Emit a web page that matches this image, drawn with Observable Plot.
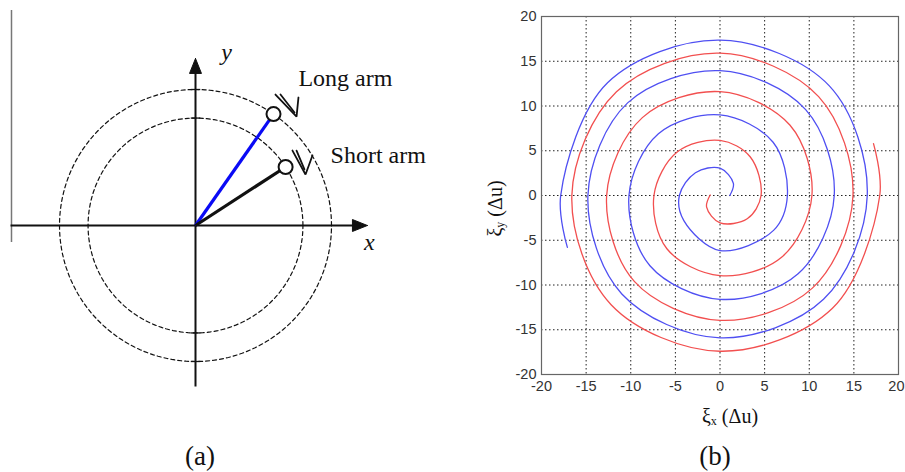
<!DOCTYPE html>
<html><head><meta charset="utf-8">
<script src="https://cdn.jsdelivr.net/npm/d3@7"></script>
<script src="https://cdn.jsdelivr.net/npm/@observablehq/plot@0.6"></script>
<style>
body{margin:0;background:#fff;}
#wrap{position:relative;width:905px;height:472px;overflow:hidden;font-family:"Liberation Serif",serif;color:#111;}
.abs{position:absolute;white-space:nowrap;}
</style></head>
<body><div id="wrap">
<div id="pa" class="abs" style="left:0;top:0"></div>
<div id="pb" class="abs" style="left:470px;top:0"></div>
<div class="abs" style="left:160px;top:441px;width:80px;text-align:center;font-size:27px;line-height:30px">(a)</div>
<div class="abs" style="left:675px;top:441px;width:80px;text-align:center;font-size:27px;line-height:30px">(b)</div>
<div class="abs" style="left:680px;top:404px;width:100px;text-align:center;font-size:20px;line-height:24px">ξ<span style="font-size:12px;position:relative;top:2px">x</span> (Δu)</div>
<div class="abs" style="left:446px;top:195px;width:100px;text-align:center;font-size:20px;line-height:24px;transform:rotate(-90deg)">ξ<span style="font-size:12px;position:relative;top:2px">y</span> (Δu)</div>
</div>
<script>
// ---------- Panel (a): diagram values (outer circle radius = 1) ----------
const circleRadii = [1.0, 0.79];
const armNames = ["Long arm", "Short arm"];
const armLengths = [1.0, 0.79];
const armAnglesDeg = [55, 33];
const armColors = ["#0a0af5", "#111111"];
const armLabelX = [0.757, 0.993];
const armLabelY = [1.081, 0.515];
const axisNames = ["x", "y"];
const axisLabelX = [1.279, 0.228];
const axisLabelY = [-0.125, 1.272];
const axisLineX1 = [-1.36, 0], axisLineY1 = [0, -1.184], axisLineX2 = [1.16, 0], axisLineY2 = [0, 1.13];
const headTipX = [1.264, 0], headTipY = [0, 1.228], headHalf = 0.044, headLen = 0.11;
const rotMarkLongX = [0.588, 0.743, 0.757], rotMarkLongY = [0.963, 0.801, 0.941];
const rotMarkLong2X = [0.625, 0.728], rotMarkLong2Y = [0.963, 0.831];
const rotMarkShortX = [0.713, 0.809, 0.860], rotMarkShortY = [0.551, 0.375, 0.515];
const rotMarkShort2X = [0.743, 0.801], rotMarkShort2Y = [0.551, 0.412];

// ---------- Panel (b): spiral readings ----------
const tickValues = [-20, -15, -10, -5, 0, 5, 10, 15, 20];
const gridValues = [-15, -10, -5, 0, 5, 10, 15];
const blueX = [1.1, 1.5, 0, -2.75, -4.55, -4.05, 0, 6.0, 7.55, 5.95, 0, -6.9, -10.2, -7.85, 0, 8.75, 12.8, 9.6, 0, -10.35, -14.8, -11.0, 0, 11.6, 16.5, 12.25, 0, -12.6, -17.85, -17.1];
const blueY = [0, 1.35, 3.05, 2.55, 0, -2.8, -6.15, -3.9, 0, 5.95, 9.0, 6.9, 0, -7.85, -11.6, -8.75, 0, 9.6, 13.95, 10.35, 0, -11.0, -15.9, -11.6, 0, 12.25, 17.35, 12.6, 0, -5.8];
const redX = [-1.1, -1.5, 0, 3.05, 4.6, 3.4, 0, -4.8, -7.4, -5.95, 0, 6.9, 10.3, 7.85, 0, -8.7, -12.7, -9.6, 0, 10.35, 14.9, 11.05, 0, -11.6, -16.6, -12.2, 0, 12.6, 17.9, 17.2];
const redY = [0.05, -1.3, -3.05, -2.6, 0, 4.3, 6.15, 4.85, 0, -5.95, -8.95, -6.9, 0, 7.85, 11.6, 8.7, 0, -9.6, -13.95, -10.35, 0, 11.05, 15.9, 11.6, 0, -12.2, -17.4, -12.6, 0, 5.8];

// ---------- build panel (a) ----------
const S = 136, W = 450, H = 440, OX = 195, OY = 225;
const circlePts = [];
circleRadii.forEach((r, k) => { for (let a = 0; a <= 360; a += 2) circlePts.push({k, x: r*Math.cos(a*Math.PI/180), y: r*Math.sin(a*Math.PI/180)}); });
const arms = armNames.map((n, i) => ({name: n, color: armColors[i],
  x: armLengths[i]*Math.cos(armAnglesDeg[i]*Math.PI/180), y: armLengths[i]*Math.sin(armAnglesDeg[i]*Math.PI/180),
  lx: armLabelX[i], ly: armLabelY[i]}));
const axes = axisNames.map((n, i) => ({name: n, x1: axisLineX1[i], y1: axisLineY1[i], x2: axisLineX2[i], y2: axisLineY2[i], lx: axisLabelX[i], ly: axisLabelY[i]}));
const heads = [];
heads.push({k:0,x:headTipX[0],y:headTipY[0]},{k:0,x:headTipX[0]-headLen,y:headHalf},{k:0,x:headTipX[0]-headLen,y:-headHalf},{k:0,x:headTipX[0],y:headTipY[0]});
heads.push({k:1,x:headTipX[1],y:headTipY[1]},{k:1,x:headHalf,y:headTipY[1]-headLen},{k:1,x:-headHalf,y:headTipY[1]-headLen},{k:1,x:headTipX[1],y:headTipY[1]});
const rot = [];
const addPoly = (k, xs, ys) => xs.forEach((x, i) => rot.push({k, x, y: ys[i]}));
addPoly(0, rotMarkLongX, rotMarkLongY); addPoly(1, rotMarkLong2X, rotMarkLong2Y);
addPoly(2, rotMarkShortX, rotMarkShortY); addPoly(3, rotMarkShort2X, rotMarkShort2Y);
const yTicks = [];
circleRadii.forEach(r => { yTicks.push({y: r}); yTicks.push({y: -r}); });

const pa = Plot.plot({
  width: W, height: H, margin: 0,
  x: {domain: [-OX/S, (W-OX)/S], axis: null},
  y: {domain: [-(H-OY)/S, OY/S], axis: null},
  style: {background: "transparent", fontFamily: "Liberation Serif, serif"},
  marks: [
    Plot.ruleX([-1.353], {y1: -0.125, y2: 1.581, stroke: "#777", strokeWidth: 1.5}),
    Plot.line(circlePts, {x: "x", y: "y", z: "k", stroke: "#111", strokeWidth: 1.2, strokeDasharray: "4,3"}),
    Plot.link(axes, {x1: "x1", y1: "y1", x2: "x2", y2: "y2", stroke: "#111", strokeWidth: 2}),
    Plot.line(heads, {x: "x", y: "y", z: "k", fill: "#111", stroke: "#111", strokeWidth: 1}),
    Plot.link(yTicks, {x1: -0.035, x2: 0.035, y1: "y", y2: "y", stroke: "#111", strokeWidth: 1.3}),
    Plot.link(arms, {x1: 0, y1: 0, x2: "x", y2: "y", stroke: "color", strokeWidth: 3.2}),
    Plot.dot(arms, {x: "x", y: "y", r: 7, fill: "white", stroke: "#111", strokeWidth: 2}),
    Plot.line(rot, {x: "x", y: "y", z: "k", stroke: "#111", strokeWidth: 1.8, strokeLinejoin: "miter", strokeLinecap: "round"}),
    Plot.text(arms, {x: "lx", y: "ly", text: "name", textAnchor: "start", fontSize: 24, fill: "#111"}),
    Plot.text(axes, {x: "lx", y: "ly", text: "name", fontSize: 24, fontStyle: "italic", fill: "#111"})
  ]
});
document.getElementById("pa").appendChild(pa);

// ---------- build panel (b) ----------
const blue = blueX.map((x, i) => ({x, y: blueY[i]}));
const red = redX.map((x, i) => ({x, y: redY[i]}));
const lastTick = tickValues[tickValues.length - 1];
const pb = Plot.plot({
  width: 435, height: 400, marginLeft: 71, marginRight: 7, marginTop: 16, marginBottom: 26,
  x: {domain: [-20, 20]}, y: {domain: [-20, 20]},
  style: {background: "transparent", fontFamily: "Liberation Sans, Arial, sans-serif", fontSize: "14px", color: "#333"},
  marks: [
    Plot.ruleX(gridValues, {stroke: "#222", strokeWidth: 1, strokeDasharray: "1.5,2.5"}),
    Plot.ruleY(gridValues, {stroke: "#222", strokeWidth: 1, strokeDasharray: "1.5,2.5"}),
    Plot.line(blue, {x: "x", y: "y", curve: "catmull-rom", stroke: "#4f4ff2", strokeWidth: 1.3}),
    Plot.line(red, {x: "x", y: "y", curve: "catmull-rom", stroke: "#f24f4f", strokeWidth: 1.3}),
    Plot.frame({stroke: "#666", strokeWidth: 1.2}),
    Plot.axisX(tickValues.filter(d => d !== lastTick), {tickSize: 0, tickPadding: 6, tickFormat: d => String(d), label: null, fontSize: 14.5}),
    Plot.axisX([lastTick], {tickSize: 0, tickPadding: 6, tickFormat: d => String(d), label: null, fontSize: 14.5, textAnchor: "end", dx: 6}),
    Plot.axisY(tickValues, {tickSize: 0, tickPadding: 5, tickFormat: d => String(d), label: null, fontSize: 14.5})
  ]
});
document.getElementById("pb").appendChild(pb);
</script>
</body></html>
